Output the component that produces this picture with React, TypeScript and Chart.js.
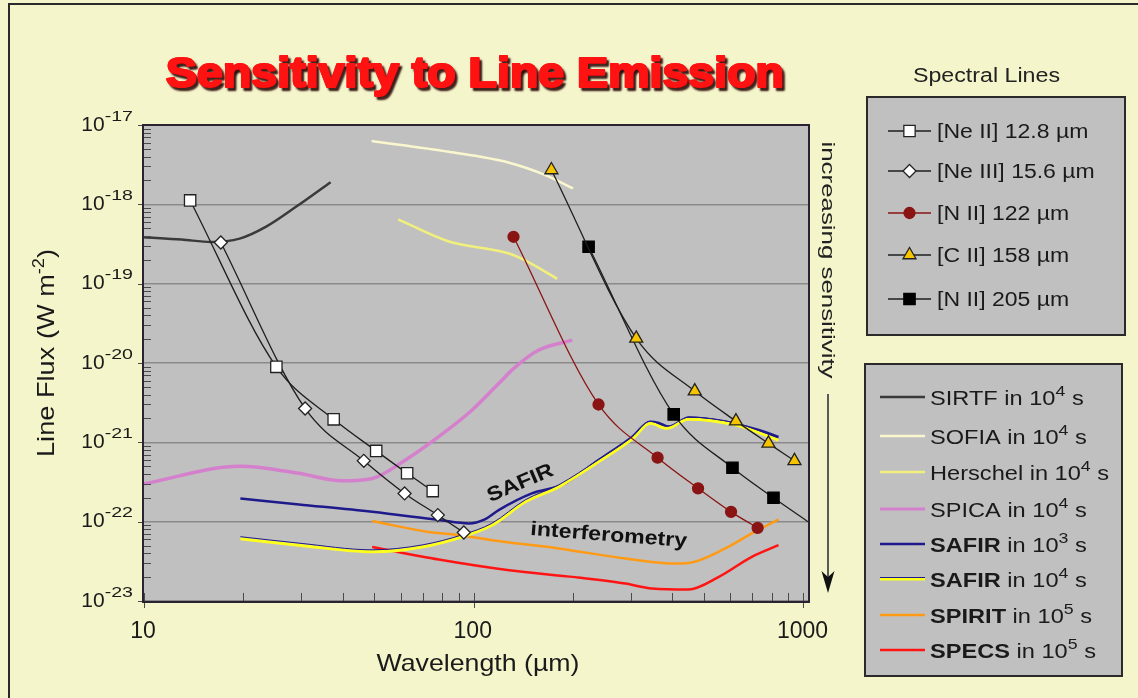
import React, { useEffect, useRef } from 'react';
import { Chart, registerables } from 'chart.js';

Chart.register(...registerables);

// ---------------- data ----------------
// wavelengths in micrometres, line fluxes in W m^-2
const sirtfWl = [10, 13, 16, 19.5, 23.4, 28.9, 36.8];
const sirtfFlux = [3.85e-19, 3.6e-19, 3.35e-19, 3.7e-19, 5.2e-19, 9.3e-19, 1.9e-18];

const sofiaWl = [49, 84, 128, 165, 200];
const sofiaFlux = [6.3e-18, 4.6e-18, 3.35e-18, 2.34e-18, 1.59e-18];

const herschelWl = [59, 84, 128, 147, 179];
const herschelFlux = [6.45e-19, 3.4e-19, 2.4e-19, 1.86e-19, 1.15e-19];

const spicaWl = [10, 19.6, 21.8, 29.5, 39.9, 49.2, 62.1, 78.3, 98.9, 119, 132, 157, 199];
const spicaFlux = [3.0e-22, 5.0e-22, 4.9e-22, 4.07e-22, 3.27e-22, 3.5e-22, 6.0e-22, 1.18e-21, 2.56e-21, 5.5e-21, 8.5e-21, 1.45e-20, 1.94e-20];

const safir3Wl = [19.6, 29.5, 49.2, 78.3, 96.6, 108, 119, 150, 185, 239, 302, 343, 364, 390, 418, 448, 579, 731, 840];
const safir3Flux = [1.96e-22, 1.65e-22, 1.33e-22, 1.05e-22, 9.5e-23, 1.07e-22, 1.4e-22, 2.27e-22, 2.9e-22, 5.97e-22, 1.17e-21, 1.82e-21, 1.76e-21, 1.58e-21, 1.74e-21, 2.06e-21, 1.82e-21, 1.43e-21, 1.17e-21];

const safir4Wl = [19.6, 29.5, 49.2, 69.7, 92.3, 113.5, 143.4, 181, 239, 302, 343, 385, 448, 621, 840];
const safir4Flux = [6.1e-23, 5.06e-23, 4.17e-23, 4.8e-23, 6.45e-23, 9.0e-23, 1.78e-22, 2.75e-22, 5.7e-22, 1.1e-21, 1.74e-21, 1.5e-21, 1.96e-21, 1.66e-21, 1.07e-21];

const spiritWl = [49.2, 73.1, 90.1, 113.5, 181, 288, 399, 448, 579, 697, 840];
const spiritFlux = [1.02e-22, 7.4e-23, 6.76e-23, 5.85e-23, 4.6e-23, 3.43e-23, 2.97e-23, 3.02e-23, 4.6e-23, 7.1e-23, 1.07e-22];

const specsWl = [49.2, 78.3, 128, 203, 288, 347, 448, 552, 697, 840];
const specsFlux = [4.8e-23, 3.33e-23, 2.44e-23, 2.0e-23, 1.66e-23, 1.44e-23, 1.4e-23, 2.0e-23, 3.6e-23, 5.06e-23];

const neIIWl = [13.8, 25.2, 37.6, 50.6, 62.8, 75.1];
const neIIFlux = [1.12e-18, 8.95e-21, 1.95e-21, 7.8e-22, 4.07e-22, 2.43e-22];

const neIIIWl = [17.1, 30.8, 46.4, 61.7, 77.8, 93.3];
const neIIIFlux = [3.3e-19, 2.67e-21, 5.85e-22, 2.27e-22, 1.21e-22, 7.3e-23];

const nII122Wl = [132, 239, 361, 479, 603, 726];
const nII122Flux = [3.9e-19, 3.0e-21, 6.4e-22, 2.63e-22, 1.33e-22, 8.35e-23];

const cIIWl = [172, 311, 468, 624, 783, 939];
const cIIFlux = [2.71e-18, 2.04e-20, 4.43e-21, 1.85e-21, 9.7e-22, 5.85e-22];

const nII205Wl = [223, 404, 609, 811, 1032];
const nII205Flux = [2.92e-19, 2.25e-21, 4.78e-22, 2.0e-22, 1.0e-22];
const nII205Marked = [true, true, true, true, false];

// texts and ticks
const TITLE = 'Sensitivity to Line Emission';
const X_TITLE = 'Wavelength (\u00b5m)';
const Y_TITLE = ['Line Flux (W m', '-2', ')'];
const SIDE_NOTE = 'increasing sensitivity';
const SPECTRAL_HEADER = 'Spectral Lines';
const spectralLabels = ['[Ne II] 12.8 \u00b5m', '[Ne III] 15.6 \u00b5m', '[N II] 122 \u00b5m', '[C II] 158 \u00b5m', '[N II] 205 \u00b5m'];
const instrumentNames = ['SIRTF', 'SOFIA', 'Herschel', 'SPICA', 'SAFIR', 'SAFIR', 'SPIRIT', 'SPECS'];
const instrumentBold = [false, false, false, false, true, true, true, true];
const instrumentExps = ['4', '4', '4', '4', '3', '4', '5', '5'];
const xTickValues = [10, 100, 1000];
const yTickExponents = [-17, -18, -19, -20, -21, -22, -23];
const minorMultipliers = [2, 3, 4, 5, 6, 7, 8, 9];
const annotationTexts = ['SAFIR', 'interferometry'];
const annotationWl = [140.6, 256];
const annotationFlux = [2.62e-22, 5.7e-23];

// ---------------- styles ----------------
const FONT = "'Liberation Sans', Arial, Helvetica, sans-serif";
const BG = '#f5f5cb';
const PLOT_BG = '#c0c0c0';
const TEXT = '#1a1a1a';
const COL = {
  sirtf: '#3a3a3a',
  sofia: '#faf7cf',
  herschel: '#f2f07c',
  spica: '#d480cc',
  safir3: '#1e1a8c',
  safir4: '#ffff1e',
  spirit: '#ff9a14',
  specs: '#ff1414',
  line: '#1e1e1e',
  nii122: '#8a1414',
  cii: '#f6c400',
};

const pts = (xs: number[], ys: number[]) => xs.map((x, i) => ({ x, y: ys[i] }));

type Run = { t: string; bold?: boolean; sup?: boolean };
type TOpt = {
  size: number;
  supSize?: number;
  supRise?: number;
  supSx?: number;
  sx?: number;
  fit?: number;
  align?: 'left' | 'center' | 'right';
  color?: string;
  rot?: number;
  bold?: boolean;
};

function drawRuns(ctx: CanvasRenderingContext2D, x: number, y: number, runs: Run[], o: TOpt) {
  const supSize = o.supSize ?? Math.round(o.size * 0.7);
  const supSx = o.supSx ?? 1;
  const fontOf = (r: Run) => `${(r.bold ?? o.bold) ? 'bold ' : ''}${r.sup ? supSize : o.size}px ${FONT}`;
  const widths = runs.map((r) => {
    ctx.font = fontOf(r);
    return ctx.measureText(r.t).width * (r.sup ? supSx : 1);
  });
  const total = widths.reduce((s, w) => s + w, 0);
  const k = o.fit ? o.fit / total : o.sx ?? 1;
  ctx.save();
  ctx.translate(x, y);
  if (o.rot) ctx.rotate(o.rot);
  ctx.scale(k, 1);
  ctx.fillStyle = o.color ?? TEXT;
  ctx.textBaseline = 'alphabetic';
  ctx.textAlign = 'left';
  let cx = o.align === 'center' ? -total / 2 : o.align === 'right' ? -total : 0;
  runs.forEach((r, i) => {
    ctx.font = fontOf(r);
    if (r.sup) {
      ctx.save();
      ctx.translate(cx, -(o.supRise ?? o.size * 0.45));
      ctx.scale(supSx, 1);
      ctx.fillText(r.t, 0, 0);
      ctx.restore();
    } else {
      ctx.fillText(r.t, cx, 0);
    }
    cx += widths[i];
  });
  ctx.restore();
}

function seg(ctx: CanvasRenderingContext2D, x1: number, y1: number, x2: number, y2: number) {
  ctx.beginPath();
  ctx.moveTo(x1, y1);
  ctx.lineTo(x2, y2);
  ctx.stroke();
}

function drawMarker(ctx: CanvasRenderingContext2D, kind: string, x: number, y: number, r: number, fill: string, stroke: string, bw: number) {
  ctx.beginPath();
  if (kind === 'rect') {
    const s = r * Math.SQRT1_2;
    ctx.rect(x - s, y - s, 2 * s, 2 * s);
  } else if (kind === 'rectRot') {
    ctx.moveTo(x, y - r);
    ctx.lineTo(x + r, y);
    ctx.lineTo(x, y + r);
    ctx.lineTo(x - r, y);
    ctx.closePath();
  } else if (kind === 'triangle') {
    ctx.moveTo(x, y - r);
    ctx.lineTo(x + 0.866 * r, y + 0.5 * r);
    ctx.lineTo(x - 0.866 * r, y + 0.5 * r);
    ctx.closePath();
  } else {
    ctx.arc(x, y, r, 0, Math.PI * 2);
  }
  ctx.fillStyle = fill;
  ctx.fill();
  ctx.lineWidth = bw;
  ctx.strokeStyle = stroke;
  ctx.stroke();
}

function buildDatasets() {
  const inst = (label: string, wl: number[], fx: number[], color: string, width: number, order: number, legendRow: number, extra: any = {}) => ({
    label,
    data: pts(wl, fx),
    borderColor: color,
    backgroundColor: color,
    borderWidth: width,
    pointRadius: 0,
    pointHoverRadius: 0,
    pointHitRadius: 0,
    cubicInterpolationMode: 'monotone',
    fill: false,
    order,
    group: 'instrument',
    legendRow,
    ...extra,
  });
  const spec = (label: string, wl: number[], fx: number[], style: string, radius: any, fillC: string, stroke: string, lineC: string, legendRow: number) => ({
    label,
    data: pts(wl, fx),
    borderColor: lineC,
    backgroundColor: fillC,
    borderWidth: 1.3,
    pointStyle: style,
    pointRadius: radius,
    pointHoverRadius: radius,
    pointBackgroundColor: fillC,
    pointBorderColor: stroke,
    pointBorderWidth: 1.3,
    cubicInterpolationMode: 'monotone',
    fill: false,
    order: 1,
    group: 'spectral',
    legendRow,
  });
  return [
    spec('[Ne II] 12.8', neIIWl, neIIFlux, 'rect', 8, '#ffffff', '#222222', COL.line, 0),
    spec('[Ne III] 15.6', neIIIWl, neIIIFlux, 'rectRot', 6.5, '#ffffff', '#222222', COL.line, 1),
    spec('[N II] 122', nII122Wl, nII122Flux, 'circle', 5.5, COL.nii122, COL.nii122, COL.nii122, 2),
    spec('[C II] 158', cIIWl, cIIFlux, 'triangle', 7.5, COL.cii, '#222222', COL.line, 3),
    spec('[N II] 205', nII205Wl, nII205Flux, 'rect', nII205Marked.map((m) => (m ? 8 : 0)), '#000000', '#000000', COL.line, 4),
    inst('SIRTF', sirtfWl, sirtfFlux, COL.sirtf, 2.5, 9, 0),
    inst('SOFIA', sofiaWl, sofiaFlux, COL.sofia, 2.5, 9, 1),
    inst('Herschel', herschelWl, herschelFlux, COL.herschel, 2.5, 9, 2),
    inst('SPICA', spicaWl, spicaFlux, COL.spica, 3.5, 9, 3),
    inst('SAFIR 1e3', safir3Wl, safir3Flux, COL.safir3, 2.5, 7, 4),
    inst('SAFIR 1e4', safir4Wl, safir4Flux, COL.safir4, 3, 6, 5),
    inst('SAFIR 1e4 edge', safir4Wl, safir4Flux, COL.safir3, 1, 5, 5, { shiftY: -2 }),
    inst('SPIRIT', spiritWl, spiritFlux, COL.spirit, 2.5, 8, 6),
    inst('SPECS', specsWl, specsFlux, COL.specs, 2.5, 8, 7),
  ];
}

const decorPlugin = {
  id: 'decor',
  beforeDraw(chart: any) {
    const { ctx, chartArea: a } = chart;
    ctx.save();
    ctx.fillStyle = BG;
    ctx.fillRect(0, 0, chart.width, chart.height);
    ctx.fillStyle = PLOT_BG;
    ctx.fillRect(a.left, a.top, a.right - a.left, a.bottom - a.top);
    ctx.restore();
  },
  beforeDatasetDraw(chart: any, args: any) {
    const ds = chart.data.datasets[args.index];
    if (ds.shiftY) {
      chart.ctx.save();
      chart.ctx.translate(0, ds.shiftY);
    }
  },
  afterDatasetDraw(chart: any, args: any) {
    const ds = chart.data.datasets[args.index];
    if (ds.shiftY) chart.ctx.restore();
  },
  afterDraw(chart: any) {
    const ctx = chart.ctx as CanvasRenderingContext2D;
    const a = chart.chartArea;
    const xs = chart.scales.x;
    const ys = chart.scales.y;
    ctx.save();
    ctx.lineCap = 'butt';

    // minor / major ticks
    ctx.strokeStyle = '#4a4a4a';
    ctx.lineWidth = 1;
    yTickExponents.forEach((e) => {
      if (e === yTickExponents[0]) return;
      minorMultipliers.forEach((k) => {
        const py = Math.round(ys.getPixelForValue(k * Math.pow(10, e))) + 0.5;
        seg(ctx, a.left, py, a.left + 7, py);
      });
    });
    xTickValues.slice(0, 2).forEach((d) => {
      minorMultipliers.forEach((k) => {
        const px = Math.round(xs.getPixelForValue(k * d)) + 0.5;
        seg(ctx, px, a.bottom, px, a.bottom - 8);
      });
    });
    xTickValues.forEach((v) => {
      const px = Math.round(xs.getPixelForValue(v)) + 0.5;
      seg(ctx, px, a.bottom - 8, px, a.bottom + 7);
    });
    yTickExponents.forEach((e) => {
      const py = Math.round(ys.getPixelForValue(Math.pow(10, e))) + 0.5;
      seg(ctx, a.left - 6, py, a.left, py);
    });

    // plot frame
    ctx.strokeStyle = '#2a2230';
    ctx.lineWidth = 2;
    ctx.strokeRect(a.left - 1, a.top, a.right - a.left + 2, a.bottom - a.top + 1);

    // tick labels
    yTickExponents.forEach((e) => {
      const py = ys.getPixelForValue(Math.pow(10, e));
      drawRuns(ctx, 133, py + 5.5, [{ t: '10' }, { t: String(e), sup: true }], {
        size: 21, supSize: 14, supSx: 1.4, supRise: 10, align: 'right',
      });
    });
    xTickValues.forEach((v) => {
      const px = xs.getPixelForValue(v);
      drawRuns(ctx, px - 1, 638, [{ t: String(v) }], { size: 23, align: 'center' });
    });

    // axis titles
    drawRuns(ctx, 478, 671, [{ t: X_TITLE }], { size: 24, fit: 203, align: 'center' });
    drawRuns(ctx, 54, 353, [{ t: Y_TITLE[0] }, { t: Y_TITLE[1], sup: true }, { t: Y_TITLE[2] }], {
      size: 24, supSize: 16, supRise: 10, fit: 208, align: 'center', rot: -Math.PI / 2,
    });

    // in-plot annotations
    const annRot = [-23 * Math.PI / 180, 4.4 * Math.PI / 180];
    const annFit = [70, 157];
    annotationTexts.forEach((t, i) => {
      const px = xs.getPixelForValue(annotationWl[i]);
      const py = ys.getPixelForValue(annotationFlux[i]);
      drawRuns(ctx, px, py, [{ t }], { size: 20, bold: true, fit: annFit[i], align: 'center', rot: annRot[i], color: '#111' });
    });

    // side note + arrow
    drawRuns(ctx, 822, 260, [{ t: SIDE_NOTE }], { size: 19, fit: 237, align: 'center', rot: Math.PI / 2, color: '#222' });
    ctx.strokeStyle = '#5a5a5a';
    ctx.lineWidth = 2;
    seg(ctx, 828, 394, 828, 580);
    ctx.beginPath();
    ctx.moveTo(828, 593);
    ctx.lineTo(821.5, 571);
    ctx.lineTo(828, 577);
    ctx.lineTo(834.5, 571);
    ctx.closePath();
    ctx.fillStyle = '#111';
    ctx.fill();

    // title
    ctx.save();
    ctx.font = `bold 42px ${FONT}`;
    const tw = ctx.measureText(TITLE).width;
    ctx.translate(475, 87);
    ctx.scale(618 / tw, 1);
    ctx.textAlign = 'center';
    ctx.textBaseline = 'alphabetic';
    ctx.lineJoin = 'round';
    ctx.lineWidth = 2.2;
    ctx.fillStyle = '#ff1212';
    ctx.strokeStyle = '#ff1212';
    ctx.shadowColor = 'rgba(35,0,0,0.85)';
    ctx.shadowOffsetX = 2.5;
    ctx.shadowOffsetY = 2.5;
    ctx.shadowBlur = 2;
    ctx.strokeText(TITLE, 0, 0);
    ctx.fillText(TITLE, 0, 0);
    ctx.shadowColor = 'rgba(0,0,0,0)';
    ctx.strokeText(TITLE, 0, 0);
    ctx.fillText(TITLE, 0, 0);
    ctx.restore();

    const datasets = chart.data.datasets as any[];

    // spectral-line legend
    drawRuns(ctx, 986.5, 82, [{ t: SPECTRAL_HEADER }], { size: 20, fit: 147, align: 'center', color: '#222' });
    ctx.fillStyle = PLOT_BG;
    ctx.fillRect(867, 97, 258, 238);
    ctx.strokeStyle = '#2a2a2a';
    ctx.lineWidth = 2;
    ctx.strokeRect(867, 97, 258, 238);
    const specRows = [131, 171, 213, 255, 299];
    datasets.filter((d) => d.group === 'spectral').forEach((d) => {
      const y = specRows[d.legendRow];
      ctx.strokeStyle = d.borderColor;
      ctx.lineWidth = 1.3;
      seg(ctx, 888, y, 931, y);
      const r = Array.isArray(d.pointRadius) ? d.pointRadius[0] : d.pointRadius;
      drawMarker(ctx, d.pointStyle, 909.5, y, r, d.pointBackgroundColor, d.pointBorderColor, 1.3);
      drawRuns(ctx, 937, y + 7, [{ t: spectralLabels[d.legendRow] }], { size: 20, sx: 1.15 });
    });

    // instrument legend
    ctx.fillStyle = PLOT_BG;
    ctx.fillRect(865, 364, 257, 312);
    ctx.strokeStyle = '#2a2a2a';
    ctx.lineWidth = 2;
    ctx.strokeRect(865, 364, 257, 312);
    const instRows = [397, 436, 472, 509, 544, 579, 615, 650];
    datasets.filter((d) => d.group === 'instrument').forEach((d) => {
      const y = instRows[d.legendRow] + (d.shiftY ? -1.5 : 0);
      ctx.strokeStyle = d.borderColor;
      ctx.lineWidth = Math.min(d.borderWidth, 3);
      seg(ctx, 880, y, 925, y);
    });
    instrumentNames.forEach((n, i) => {
      drawRuns(ctx, 930, instRows[i] + 7.5, [
        { t: n, bold: instrumentBold[i] },
        { t: ' in 10' },
        { t: instrumentExps[i], sup: true },
        { t: ' s' },
      ], { size: 20, supSize: 15, supRise: 9, sx: 1.18 });
    });

    // outer picture border (left and top)
    ctx.fillStyle = '#2a2a2a';
    ctx.fillRect(8, 3, 2, chart.height - 3);
    ctx.fillRect(8, 3, chart.width - 8, 2);
    ctx.restore();
  },
};

export default function App() {
  const ref = useRef<HTMLCanvasElement>(null);
  useEffect(() => {
    const canvas = ref.current;
    if (!canvas) return;
    const chart = new Chart(canvas, {
      type: 'line',
      data: { datasets: buildDatasets() as any },
      options: {
        animation: false,
        responsive: false,
        devicePixelRatio: 1,
        events: [],
        layout: { padding: { left: 144, right: 330, top: 125, bottom: 97 } },
        plugins: {
          legend: { display: false },
          tooltip: { enabled: false },
          title: { display: false },
        },
        scales: {
          x: {
            type: 'logarithmic',
            min: 10,
            max: 1032,
            ticks: { display: false },
            grid: { display: false },
            border: { display: false },
            afterFit: (s: any) => { s.height = 0; },
          },
          y: {
            type: 'logarithmic',
            min: 1e-23,
            max: 1e-17,
            ticks: { display: false },
            grid: { display: true, color: '#8a8a8a', lineWidth: 1.5, drawTicks: false },
            border: { display: false },
            afterBuildTicks: (s: any) => { s.ticks = yTickExponents.map((e) => ({ value: Math.pow(10, e) })); },
            afterFit: (s: any) => { s.width = 0; },
          },
        },
      } as any,
      plugins: [decorPlugin as any],
    });
    return () => chart.destroy();
  }, []);
  return (
    <div style={{ position: 'absolute', left: 0, top: 0, width: 1138, height: 698, overflow: 'hidden', background: BG }}>
      <canvas ref={ref} width={1138} height={698} style={{ display: 'block', width: 1138, height: 698 }} />
    </div>
  );
}
